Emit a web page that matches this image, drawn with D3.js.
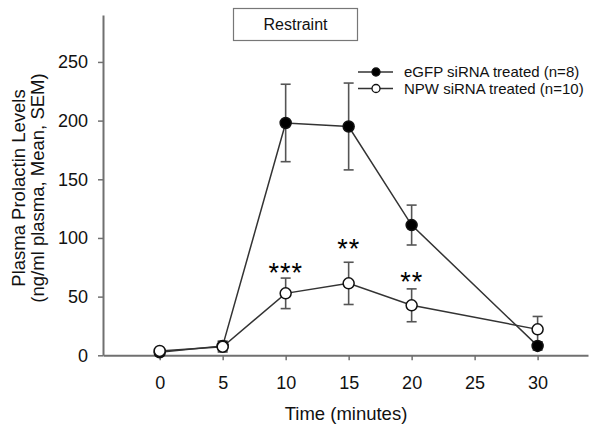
<!DOCTYPE html>
<html><head><meta charset="utf-8">
<script src="https://cdn.jsdelivr.net/npm/d3@7"></script>
<style>body{margin:0;background:#fff}svg{display:block;font-family:Arial,"Liberation Sans",sans-serif}</style>
</head><body>
<script>
const times = [0, 5, 10, 15, 20, 30];
const egfpMean = [2.5, 8, 198, 195, 111, 8];
const egfpSem  = [1.5, 4, 33, 37, 17, 3.5];
const npwMean  = [3.7, 7.3, 52.8, 61.3, 42.6, 22.1];
const npwSem   = [2, 4.5, 13, 18, 14, 11];
const xTicks = [0, 5, 10, 15, 20, 25, 30];
const yTicks = [0, 50, 100, 150, 200, 250];
const sigLabels = [{t:10, v:76, s:"***"}, {t:15, v:97, s:"**"}, {t:20, v:69, s:"**"}];
const seriesNames = ["eGFP siRNA treated (n=8)", "NPW siRNA treated (n=10)"];

const W = 604, H = 429;
const svg = d3.select("body").append("svg").attr("width", W).attr("height", H);
const x = d3.scaleLinear().domain([-4.5, 34]).range([103, 588]);
const y = d3.scaleLinear().domain([0, 290]).range([355.3, 15]);
const axisCol = "#707070";

// axes
const gx = svg.append("g").attr("transform", `translate(0,${y(0)})`)
  .call(d3.axisBottom(x).tickValues(xTicks).tickSize(5).tickPadding(16).tickSizeOuter(0));
const gy = svg.append("g").attr("transform", `translate(${x(-4.5)},0)`)
  .call(d3.axisLeft(y).tickValues(yTicks).tickSize(5).tickPadding(10).tickSizeOuter(0));
[gx, gy].forEach(g => {
  g.select(".domain").attr("stroke", axisCol).attr("stroke-width", 2);
  g.selectAll(".tick line").attr("stroke", axisCol).attr("stroke-width", 1.5);
  g.selectAll(".tick text").attr("fill", "#111").attr("font-size", 18)
   .attr("font-family", "Arial, 'Liberation Sans', sans-serif");
});
gx.selectAll(".tick text").attr("dy", "0.71em");

// axis labels
svg.append("text").attr("x", 346).attr("y", 420).attr("text-anchor", "middle")
  .attr("font-size", 18.5).attr("fill", "#111").text("Time (minutes)");
const yl = svg.append("text").attr("transform", "translate(25,188) rotate(-90)")
  .attr("text-anchor", "middle").attr("font-size", 18.5).attr("fill", "#111");
yl.append("tspan").attr("x", 0).attr("y", 0).text("Plasma Prolactin Levels");
yl.append("tspan").attr("x", 0).attr("y", 19).text("(ng/ml plasma, Mean, SEM)");

// restraint box
svg.append("rect").attr("x", 233.5).attr("y", 8.5).attr("width", 124).attr("height", 32)
  .attr("fill", "#fff").attr("stroke", "#777").attr("stroke-width", 1.2);
svg.append("text").attr("x", 295.5).attr("y", 30).attr("text-anchor", "middle")
  .attr("font-size", 16).attr("fill", "#111").text("Restraint");

const series = [
  {mean: egfpMean, sem: egfpSem, fill: "#000"},
  {mean: npwMean, sem: npwSem, fill: "#fff"}
];
const line = d3.line().x(d => x(d.t)).y(d => y(d.v));

series.forEach(s => {
  const data = times.map((t, i) => ({t, v: s.mean[i], e: s.sem[i]}));
  const eb = svg.append("g").attr("stroke", "#555").attr("stroke-width", 1.6);
  data.forEach(d => {
    eb.append("line").attr("x1", x(d.t)).attr("x2", x(d.t)).attr("y1", y(d.v - d.e)).attr("y2", y(d.v + d.e));
    [d.v - d.e, d.v + d.e].forEach(v => eb.append("line")
      .attr("x1", x(d.t) - 5).attr("x2", x(d.t) + 5).attr("y1", y(v)).attr("y2", y(v)));
  });
  s.data = data;
});
series.forEach(s => {
  svg.append("path").datum(s.data).attr("d", line).attr("fill", "none")
    .attr("stroke", "#333").attr("stroke-width", 1.5);
});
series.forEach(s => {
  svg.append("g").selectAll("circle").data(s.data).join("circle")
    .attr("cx", d => x(d.t)).attr("cy", d => y(d.v)).attr("r", 5.5)
    .attr("fill", s.fill).attr("stroke", "#111").attr("stroke-width", 1.5);
});

// significance
svg.append("g").selectAll("text").data(sigLabels).join("text")
  .attr("x", d => x(d.t)).attr("y", d => y(d.v)).attr("text-anchor", "middle")
  .attr("font-size", 27).attr("fill", "#000").attr("letter-spacing", 1)
  .attr("dy", "0.6em").text(d => d.s);

// legend
const lg = svg.append("g");
seriesNames.forEach((name, i) => {
  const ly = 72 + i * 16.5;
  lg.append("line").attr("x1", 358).attr("x2", 393).attr("y1", ly).attr("y2", ly)
    .attr("stroke", "#333").attr("stroke-width", 1.5);
  lg.append("circle").attr("cx", 376).attr("cy", ly).attr("r", 4)
    .attr("fill", series[i].fill).attr("stroke", "#111").attr("stroke-width", 1.3);
  lg.append("text").attr("x", 404).attr("y", ly + 5).attr("font-size", 15)
    .attr("fill", "#111").text(name);
});
</script>
</body></html>
